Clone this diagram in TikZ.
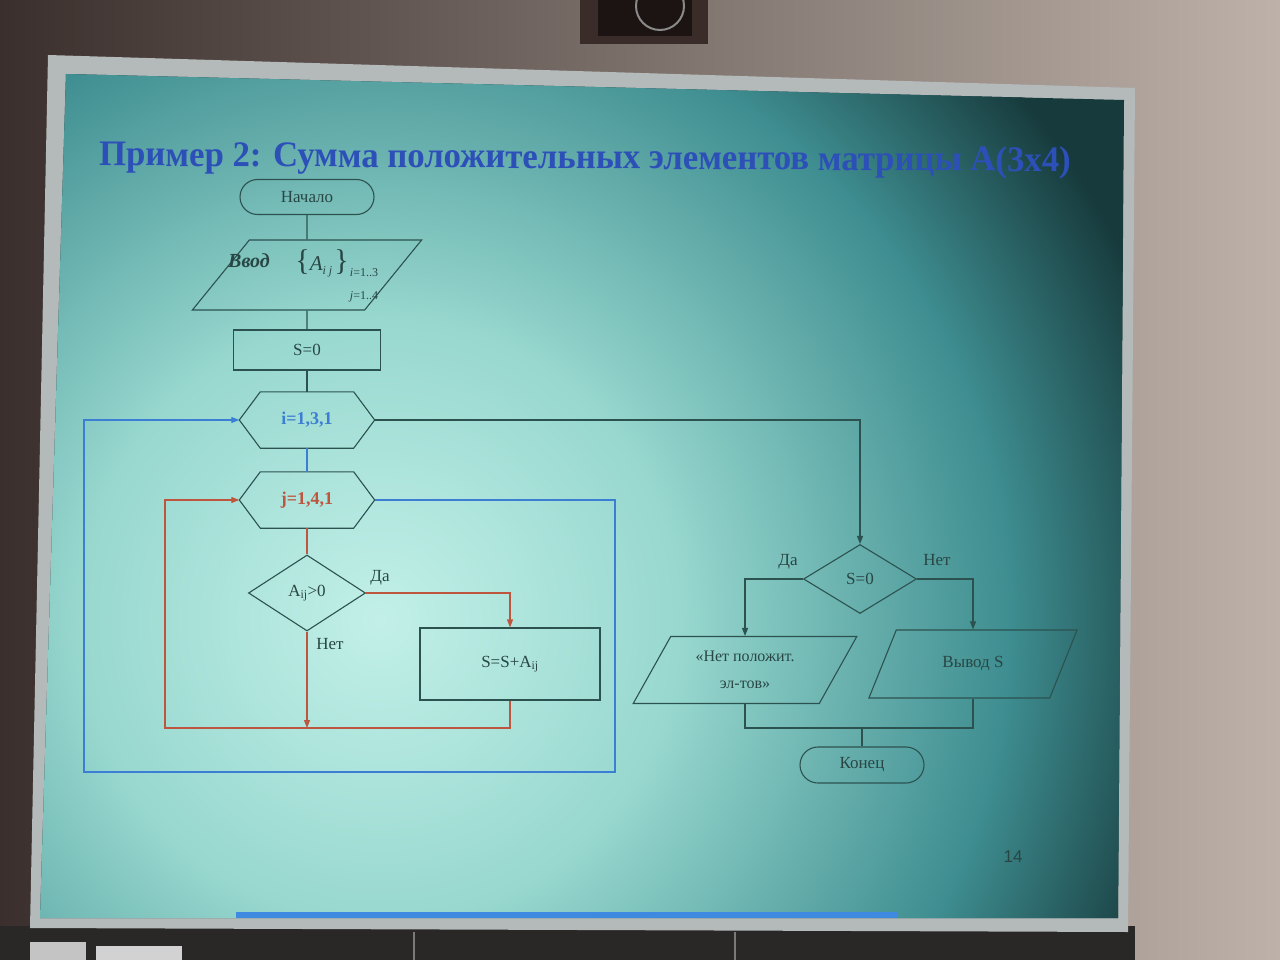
\documentclass[tikz,border=0pt]{standalone}
\usepackage{fontspec}
\setmainfont{Liberation Serif}
\newfontfamily\numfont{Liberation Sans}
\usetikzlibrary{arrows.meta,shapes.geometric,shapes.misc}
\definecolor{ln}{HTML}{2C5250}
\definecolor{bl}{HTML}{3C7ED4}
\definecolor{rd}{HTML}{BE553F}
\definecolor{tx}{HTML}{284644}
\definecolor{ttl}{HTML}{2C50B8}
\definecolor{wallL}{HTML}{3A2F2C}
\definecolor{wallR}{HTML}{BDB1A9}
\definecolor{frm}{HTML}{B4BABA}
\definecolor{c1}{HTML}{C2F0E8}
\definecolor{c2}{HTML}{98D8CF}
\definecolor{c3}{HTML}{3E8D90}
\definecolor{c4}{HTML}{173A3C}
\definecolor{floorc}{HTML}{2A2727}
\definecolor{panA}{HTML}{C4C4C4}
\definecolor{panB}{HTML}{D2D2D2}
\definecolor{divc}{HTML}{7A7A7A}
\definecolor{spkA}{HTML}{3A2C28}
\definecolor{spkB}{HTML}{1C1412}
\definecolor{spkC}{HTML}{8A8A8A}
\definecolor{barc}{HTML}{3D8AE0}
\pgfdeclareradialshading{slideshade}{\pgfpoint{0bp}{0bp}}{color(0bp)=(c1); color(9bp)=(c2); color(19bp)=(c3); color(25bp)=(c4); color(50bp)=(c4)}
\tikzset{
  box/.style={draw=ln, line width=1.1pt, text=tx, font=\fontsize{17}{20}\selectfont, inner sep=2pt},
  term/.style={box, rounded rectangle, minimum width=138pt, minimum height=35pt},
  proc/.style={box, rectangle},
  hexa/.style={text=tx, inner sep=2pt, rectangle, minimum width=135pt, minimum height=56pt, font=\fontsize{18}{20}\selectfont\bfseries},
  hexline/.style={ln, line width=1.1pt, line join=miter},
  decide/.style={box, diamond, aspect=1.5},
  io/.style={box, trapezium, trapezium stretches=true},
  lab/.style={text=tx, font=\fontsize{17}{20}\selectfont, inner sep=0pt},
  con/.style={ln, line width=1.1pt},
  arr/.style={-{Triangle[length=8pt,width=6pt]}},
}
\begin{document}
\begin{tikzpicture}[x=1pt,y=-1pt]
\useasboundingbox (0,0) rectangle (1280,960);
% room and screen
\shade[left color=wallL, right color=wallR] (0,0) rectangle (1280,960);
\fill[floorc] (0,926) rectangle (1135,960);
\fill[panA] (30,942) rectangle (86,960);
\fill[panB] (96,946) rectangle (182,960);
\draw[divc, line width=2pt] (414,932) -- (414,960) (735,932) -- (735,960);
\fill[spkA] (580,0) rectangle (708,44);
\fill[spkB] (598,0) rectangle (692,36);
\draw[spkC, line width=2pt] (660,6) circle (24pt);
\fill[frm] (48,55) -- (1135,88) -- (1128,932) -- (30,928) -- cycle;
\begin{scope}
\clip (66,74) -- (1124,100) -- (1118,918) -- (40,918) -- cycle;
\fill[c4] (0,0) rectangle (1280,960);
\shade[shading=slideshade] (380,620) circle (830pt);
\end{scope}
\fill[barc] (236,912) rectangle (898,918);
% title
\node[text=ttl, font=\fontsize{36}{38}\selectfont\bfseries, inner sep=0pt, rotate=-0.35, xscale=0.965] (title) at (585,160) {Пример 2: Сумма положительных элементов матрицы A(3x4)};
% nodes
\node[term] (start) at (307,197) {Начало};
\node[io, trapezium left angle=62, trapezium right angle=118, minimum width=230pt, minimum height=70pt] (inp) at (307,275) {\phantom{X}};
\node[lab, font=\fontsize{20}{20}\selectfont\bfseries\itshape] (vvod) at (249,261) {Ввод};
\node[lab] (arr) at (322,263) {\fontsize{30}{30}\selectfont\{\fontsize{21}{21}\selectfont\itshape A\fontsize{12}{12}\selectfont\raisebox{-4pt}{i j}\,\upshape\fontsize{30}{30}\selectfont\}};
\node[lab, font=\fontsize{12}{12}\selectfont] (irng) at (364,273) {\itshape i\upshape=1..3};
\node[lab, font=\fontsize{12}{12}\selectfont] (jrng) at (364,297) {\itshape j\upshape=1..4};
\node[proc, minimum width=147pt, minimum height=40pt] (s0) at (307,350) {S=0};
\node[hexa, text=bl] (iloop) at (307,420) {i=1,3,1};
\node[hexa, text=rd] (jloop) at (307,500) {j=1,4,1};
\foreach \h in {iloop,jloop}{
  \draw[hexline] (\h.west) -- ([xshift=21pt]\h.north west) -- ([xshift=-21pt]\h.north east) -- (\h.east) -- ([xshift=-21pt]\h.south east) -- ([xshift=21pt]\h.south west) -- cycle;
}
\node[decide, minimum width=117pt, minimum height=76pt] (cond) at (307,593) {A\textsubscript{ij}>0};
\node[proc, minimum width=180pt, minimum height=72pt] (add) at (510,664) {S=S+A\textsubscript{ij}};
\node[decide, minimum width=113pt, minimum height=69pt] (fin) at (860,579) {S=0};
\node[io, trapezium left angle=58, trapezium right angle=122, minimum width=224pt, minimum height=67pt, align=center, font=\fontsize{16}{27}\selectfont] (nopos) at (745,670) {«Нет положит.\\эл-тов»};
\node[io, trapezium left angle=58, trapezium right angle=122, minimum width=209pt, minimum height=68pt] (outs) at (973,664) {Вывод S};
\node[term, minimum width=128pt, minimum height=36pt] (stop) at (862,765) {Конец};
\node[text=tx, font=\numfont\fontsize{17}{20}\selectfont, inner sep=0pt] (pg) at (1013,857) {14};
% labels
\node[lab] (da1) at (380,578) {Да};
\node[lab] (net1) at (330,644) {Нет};
\node[lab] (da2) at (788,562) {Да};
\node[lab] (net2) at (937,560) {Нет};
% helper coordinates
\coordinate (rj) at (165,728);
\coordinate (bj) at (615,772);
\coordinate (bi) at (84,772);
\coordinate (mj) at (862,728);
% connectors
\draw[con] (start) -- (inp);
\draw[con] (inp) -- (s0);
\draw[con] (s0) -- (iloop);
\draw[con, bl] (iloop) -- (jloop);
\draw[con, rd] (jloop) -- (cond);
\draw[con, rd, arr] (cond.east) -| (add.north);
\draw[con, rd, arr] (cond.south) -- (cond.south |- rj);
\draw[con, rd, arr] (add.south) |- (rj) |- (jloop.west);
\draw[con, bl, arr] (jloop.east) -| (bj) -- (bi) |- (iloop.west);
\draw[con, arr] (iloop.east) -| (fin.north);
\draw[con, arr] (fin.west) -| (nopos.north);
\draw[con, arr] (fin.east) -| (outs.north);
\draw[con] (nopos.south) |- (mj) -| (outs.south);
\draw[con] (mj) -- (stop.north);
\end{tikzpicture}
\end{document}
